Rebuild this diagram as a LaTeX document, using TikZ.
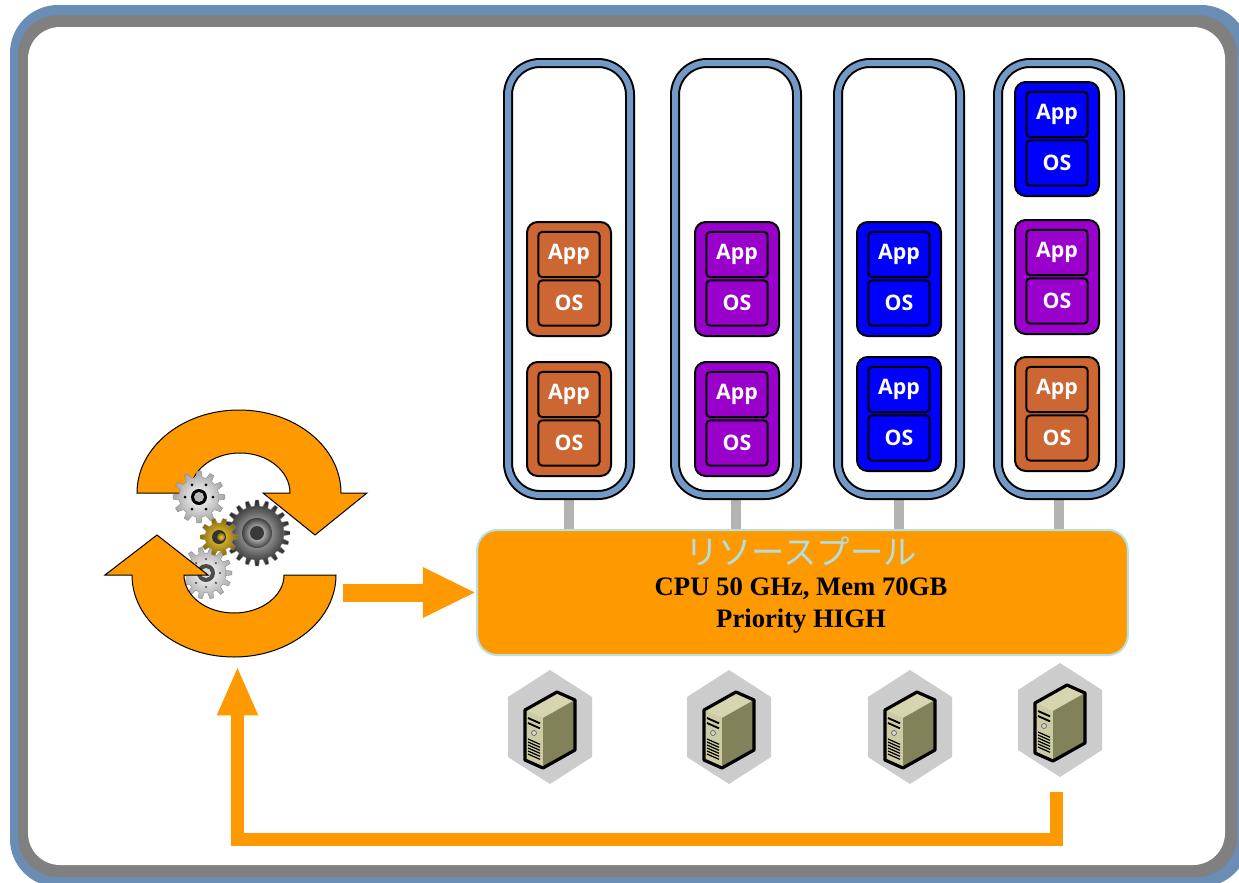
\documentclass[tikz,border=0pt]{standalone}
\usepackage{fontspec}
\setmainfont{Liberation Serif}
\newfontfamily\appfont{Open Sans}
\newfontfamily\jpfont{Noto Sans CJK JP}
\usetikzlibrary{arrows.meta,backgrounds}

\definecolor{frameblue}{HTML}{6A8DB6}
\definecolor{framegray}{HTML}{808080}
\definecolor{hostblue}{HTML}{7399C6}
\definecolor{vmorange}{HTML}{CC6633}
\definecolor{vmpurple}{HTML}{9900CC}
\definecolor{vmblue}{HTML}{0000FF}
\definecolor{poolorange}{HTML}{FF9900}
\definecolor{pooledge}{HTML}{B7E1E6}
\definecolor{jpblue}{HTML}{B0E0E6}
\definecolor{linkgray}{HTML}{B3B3B3}
\definecolor{hexgray}{HTML}{CCCCCC}
\definecolor{towerfront}{HTML}{CCCBA3}
\definecolor{towerside}{HTML}{82825A}
\definecolor{towertop}{HTML}{D6D5B0}
\definecolor{goldlight}{HTML}{F2D14A}
\definecolor{golddark}{HTML}{8A6A00}

\tikzset{
  host/.style={draw=black, line width=1.5pt, double=hostblue, double distance=4.5pt,
    fill=white, rounded corners=24pt, minimum width=91.5pt, minimum height=324pt, inner sep=0pt},
  vmbox/.style={draw=black, line width=1.5pt, rounded corners=8pt,
    minimum width=63pt, minimum height=85.5pt, inner sep=0pt},
  vmpart/.style={draw=black, line width=1.5pt, rounded corners=3pt,
    minimum width=46pt, minimum height=34pt, inner sep=0pt, text=white,
    font=\appfont\bfseries\fontsize{16}{16}\selectfont},
  pool/.style={fill=poolorange, draw=pooledge, line width=1.5pt, rounded corners=15pt,
    minimum width=488pt, minimum height=93.75pt, inner sep=0pt},
  spec/.style={font=\bfseries\fontsize{20}{20}\selectfont, inner sep=0pt},
  link/.style={linkgray, line width=8pt},
  flow/.style={poolorange, line width=13.5pt, -{Triangle[width=35pt,length=40pt]}},
  feedback/.style={poolorange, line width=9.75pt, line join=miter,
    -{Triangle[width=28pt,length=37pt]}},
  cyclearrow/.style={fill=poolorange, draw=black, line width=0.75pt},
}

% a virtual machine: name, centre x, top y, colour
\newcommand\vm[4]{%
  \node[vmbox, fill=#4] (#1) at (#2,#3+57) {};
  \node[vmpart, fill=#4] (#1app) at (#2,#3+32.5) {App};
  \node[vmpart, fill=#4] (#1os) at (#2,#3+81) {OS};
}

% a tower server on a grey hexagon: name, centre x, centre y
\newcommand\server[3]{%
  \begin{scope}[shift={(#2,#3)}]
    \coordinate (#1) at (0,0);
    \fill[hexgray] (0,-57) -- (42,-30) -- (42,30) -- (0,57) -- (-42,30) -- (-42,-30) -- cycle;
    \fill[towertop] (-25,-17) -- (7,-35) -- (25,-27) -- (-7,-9) -- cycle;
    \fill[towerfront] (-25,-17) -- (-7,-9) -- (-7,41) -- (-25,33) -- cycle;
    \fill[towerside] (-7,-9) -- (25,-27) -- (25,23) -- (-7,41) -- cycle;
    \draw[line width=2.4pt, line join=round] (-25,-17) -- (7,-35) -- (25,-27) -- (25,23)
      -- (-7,41) -- (-25,33) -- cycle;
    \draw[line width=1.4pt] (-22,-9) -- (-10,-3.7) (-22,-4) -- (-10,1.3);
    \filldraw[fill=gray!35, draw=black!70, line width=0.4pt] (-16,6) circle (2.5);
    \foreach \v in {12,15,...,27} \draw[line width=0.9pt] (-22,\v) -- (-10,\v+5.3);
  \end{scope}}

% a toothed gear: centre x, centre y, root radius, tip radius, teeth, shading
\newcommand\gear[6]{%
  \begin{scope}[shift={(#1,#2)}]
    \pgfmathsetmacro\gstep{360/#5}
    \shadedraw[#6, draw=black!45, line width=0.3pt] ({-0.3*\gstep}:#3)
      \foreach \k in {0,...,#5} { -- ({(\k-0.3)*\gstep}:#3) -- ({(\k-0.16)*\gstep}:#4)
        -- ({(\k+0.16)*\gstep}:#4) -- ({(\k+0.3)*\gstep}:#3) } -- cycle;
  \end{scope}}

\begin{document}
\begin{tikzpicture}[x=0.75pt, y=-0.75pt]
\useasboundingbox (0,0) rectangle (1239,882);

% outer frame
\begin{pgfonlayer}{background}
  \fill[frameblue, rounded corners=36pt] (10,5) rectangle (1249,887);
  \fill[framegray, rounded corners=30pt] (18,15) rectangle (1237,877);
  \fill[white, rounded corners=24pt] (28,27) rectangle (1225,865);
\end{pgfonlayer}

% hosts
\node[host] (host1) at (569,279) {};
\node[host] (host2) at (736,279) {};
\node[host] (host3) at (899,279) {};
\node[host] (host4) at (1059,279) {};

% virtual machines
\vm{vmA}{569}{222}{vmorange}
\vm{vmB}{569}{362}{vmorange}
\vm{vmC}{737}{222}{vmpurple}
\vm{vmD}{737}{362}{vmpurple}
\vm{vmE}{899}{222}{vmblue}
\vm{vmF}{899}{357}{vmblue}
\vm{vmG}{1057}{82}{vmblue}
\vm{vmH}{1057}{220}{vmpurple}
\vm{vmI}{1057}{357}{vmorange}

% resource pool
\node[pool] (pool) at (802.5,592.5) {};
\node[text=jpblue, font=\jpfont\fontsize{25}{25}\selectfont, inner sep=0pt] (pooltitle)
  at (801,551) {リソースプール};
\node[spec] (poolspec) at (801,589) {CPU 50 GHz, Mem 70GB};
\node[spec] (poolprio) at (801,621) {Priority HIGH};

% hosts hang from the pool
\begin{pgfonlayer}{background}
  \foreach \h in {host1,host2,host3,host4}
    \draw[link] (\h.south) -- (\h.south |- pool.north);
\end{pgfonlayer}

% physical servers
\server{srv1}{550}{727}
\server{srv2}{729}{727}
\server{srv3}{910}{727}
\server{srv4}{1060}{720}

% control cycle icon
\filldraw[cyclearrow] (137,493) arc[start angle=180, end angle=360, x radius=102, y radius=83]
  -- (367,493) -- (315,535) -- (263,493) -- (290,493)
  arc[start angle=0, end angle=-180, x radius=50, y radius=40] -- cycle;

\gear{206}{573}{20}{26}{14}{inner color=white, outer color=gray!65}
\begin{scope}[shift={(206,573)}]
  \fill[gray!60!black] (0,0) circle (9);
  \fill[gray!30] (0,0) circle (5);
  \foreach \a in {0,45,...,315} \fill[black!70] (\a:14) circle (1.2);
\end{scope}

\gear{257}{533}{27}{33}{20}{inner color=gray!30, outer color=black!85}
\begin{scope}[shift={(257,533)}]
  \shade[inner color=white, outer color=gray!50!black] (0,0) circle (15);
  \fill[gray!45!black] (0,0) circle (7);
\end{scope}

\gear{219}{537}{14}{19}{10}{inner color=goldlight, outer color=golddark}
\begin{scope}[shift={(219,537)}]
  \fill[black!80] (0,0) circle (7);
  \shade[inner color=goldlight, outer color=golddark] (2,0) circle (4);
\end{scope}

\gear{199}{497}{20}{26}{12}{inner color=white, outer color=gray!70}
\begin{scope}[shift={(199,497)}]
  \fill[black] (0,0) circle (8);
  \fill[gray!55] (0,0) circle (5);
  \foreach \a in {0,60,...,300} \fill[black] (\a:14) circle (1.5);
\end{scope}

\filldraw[cyclearrow] (336,575) arc[start angle=0, end angle=180, x radius=102, y radius=82]
  -- (105,575) -- (157,535) -- (208,575) -- (184,575)
  arc[start angle=180, end angle=0, x radius=50, y radius=38] -- cycle;

% flow into the pool and feedback from the servers
\coordinate (iconE) at (343,592.5);
\coordinate (iconS) at (237.5,666);
\coordinate (fbstart) at (1056,792);
\draw[flow] (iconE) -- (iconE -| pool.west);
\draw[feedback] (fbstart) -- ++(0,47) -| (iconS);

\end{tikzpicture}
\end{document}
